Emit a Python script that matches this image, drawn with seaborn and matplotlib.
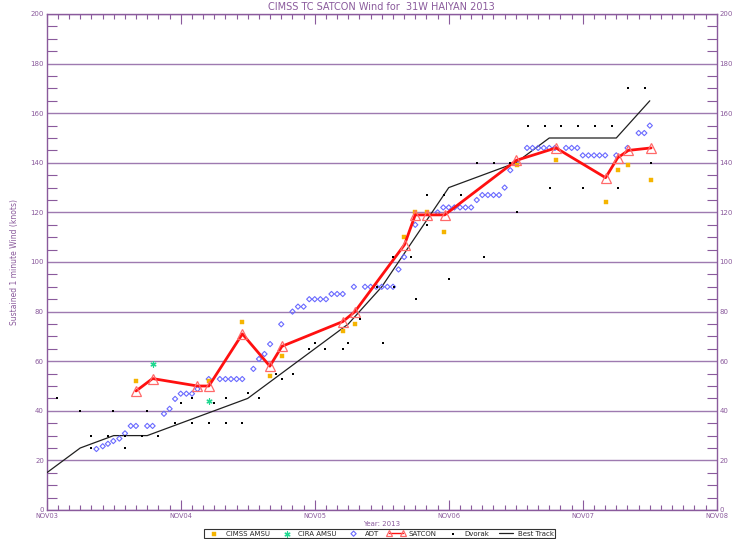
import numpy as np
import pandas as pd
import matplotlib
matplotlib.use("Agg")
import matplotlib.pyplot as plt
import seaborn as sns
from matplotlib.ticker import MultipleLocator

# ---------------- data (x = days since 03 Nov 2013 00Z, y = knots) ----------------
day_labels = ["NOV03", "NOV04", "NOV05", "NOV06", "NOV07", "NOV08"]

best_day = [0.0, 0.25, 0.5, 0.75, 1.0, 1.25, 1.5, 1.75, 2.0, 2.25, 2.5, 2.75,
            3.0, 3.25, 3.5, 3.75, 4.0, 4.25, 4.5]
best_kt = [15, 25, 30, 30, 35, 40, 45, 55, 65, 75, 90, 110,
           130, 135, 140, 150, 150, 150, 165]

satcon_day = [0.667, 0.79, 1.125, 1.21, 1.46, 1.665, 1.755, 2.21, 2.30, 2.67,
              2.75, 2.835, 2.97, 3.505, 3.80, 4.17, 4.26, 4.34, 4.51]
satcon_kt = [48, 53, 50, 50, 71, 58, 66, 76, 80, 107,
             119, 119, 119, 141, 146, 134, 142, 145, 146]

adt_day = [0.371, 0.418, 0.457, 0.497, 0.542, 0.584, 0.627, 0.666, 0.75, 0.79,
           0.875, 0.917, 0.958, 1.0, 1.042, 1.084, 1.125, 1.209, 1.292, 1.334,
           1.375, 1.417, 1.459, 1.542, 1.584, 1.625, 1.667, 1.75, 1.834, 1.875,
           1.917, 1.959, 2.0, 2.042, 2.084, 2.125, 2.167, 2.209, 2.292, 2.375,
           2.417, 2.459, 2.5, 2.542, 2.584, 2.625, 2.667, 2.75, 2.917, 2.959,
           3.0, 3.042, 3.084, 3.125, 3.167, 3.209, 3.25, 3.292, 3.334, 3.375,
           3.417, 3.459, 3.5, 3.584, 3.625, 3.667, 3.709, 3.75, 3.792, 3.875,
           3.917, 3.959, 4.0, 4.042, 4.084, 4.125, 4.167, 4.25, 4.334, 4.417,
           4.459, 4.5]
adt_kt = [24.6, 25.7, 26.7, 27.8, 28.8, 30.9, 33.9, 33.9, 33.9, 33.9,
          38.8, 40.8, 44.8, 46.9, 46.9, 46.9, 48.8, 52.8, 52.8, 52.8,
          52.8, 52.8, 52.8, 56.9, 60.9, 62.9, 66.9, 74.9, 80.0, 82.0,
          82.0, 85.0, 85.0, 85.0, 85.0, 87.1, 87.1, 87.1, 90.0, 90.0,
          90.0, 90.0, 90.0, 90.0, 90.0, 97.0, 102.0, 115.0, 120.0, 122.0,
          122.0, 122.0, 122.0, 122.0, 122.0, 125.0, 127.0, 127.0, 127.0, 127.0,
          130.0, 137.0, 140.0, 146.0, 146.0, 146.0, 146.0, 146.0, 146.0, 146.0,
          146.0, 146.0, 143.0, 143.0, 143.0, 143.0, 143.0, 143.0, 146.0, 152.0,
          152.0, 155.0]

dvorak_day = [0.08, 0.248, 0.497, 0.75, 0.33, 0.455, 0.584, 0.709, 0.833, 0.33,
              0.584, 0.957, 1.0, 1.084, 1.084, 1.21, 1.25, 1.336, 1.336, 1.46,
              1.5, 1.584, 1.71, 1.754, 1.836, 1.96, 2.0, 2.08, 2.21, 2.25,
              2.34, 2.467, 2.51, 2.587, 2.59, 2.716, 2.756, 2.84, 2.84, 2.965,
              3.005, 3.09, 3.21, 3.26, 3.34, 3.46, 3.507, 3.59, 3.716, 3.756,
              3.84, 3.967, 4.0, 4.09, 4.22, 4.26, 4.34, 4.465, 4.51]
dvorak_kt = [45, 40, 40, 40, 30, 30, 30, 30, 30, 25,
             25, 35, 43, 45, 35, 35, 43, 35, 45, 35,
             47, 45, 55, 53, 55, 65, 67.5, 65, 65, 67.5,
             77, 90, 67.5, 102, 90, 102, 85, 115, 127, 127,
             93, 127, 140, 102, 140, 140, 120, 155, 155, 130,
             155, 155, 130, 155, 155, 130, 170, 170, 140]

cimss_day = [0.667, 1.21, 1.46, 1.667, 1.754, 2.21, 2.30, 2.667, 2.75, 2.835,
             2.965, 3.507, 3.80, 4.17, 4.26, 4.34, 4.51]
cimss_kt = [52, 52, 76, 54, 62, 72, 75, 110, 120, 120,
            112, 139, 141, 124, 137, 139, 133]

cira_day = [0.79, 1.21]
cira_kt = [59, 44]

# ---------------- styling ----------------
PURPLE = "#8A5A9C"
GRID = "#9E7AB0"
W, H = 732, 539

sns.set_theme(style="white")
plt.rcParams["font.family"] = ["DejaVu Sans"]

fig = plt.figure(figsize=(W / 100, H / 100), dpi=100)
ax = fig.add_axes([46.7 / W, 1 - 510 / H, (716.8 - 46.7) / W, (510 - 14) / H])

best = pd.DataFrame({"day": best_day, "kt": best_kt})
sat = pd.DataFrame({"day": satcon_day, "kt": satcon_kt})
adt = pd.DataFrame({"day": adt_day, "kt": adt_kt})
dvo = pd.DataFrame({"day": dvorak_day, "kt": dvorak_kt})
cim = pd.DataFrame({"day": cimss_day, "kt": cimss_kt})
cir = pd.DataFrame({"day": cira_day, "kt": cira_kt})

sns.lineplot(data=best, x="day", y="kt", ax=ax, color="#202020", linewidth=0.9,
             label="Best Track", zorder=3)
sns.scatterplot(data=adt, x="day", y="kt", ax=ax, marker="D", s=7,
                facecolor="none", edgecolor="#6A6AFF", linewidth=0.8,
                label="ADT", zorder=4)
sns.scatterplot(data=cim, x="day", y="kt", ax=ax, marker="s", s=7,
                color="#F5B400", edgecolor="#F5B400", linewidth=0.3,
                label="CIMSS AMSU", zorder=4)
sns.scatterplot(data=cir, x="day", y="kt", ax=ax, marker=(6, 2, 0), s=14,
                color="#20D890", edgecolor="#20D890", linewidth=0.9,
                label="CIRA AMSU", zorder=4)
sns.lineplot(data=sat, x="day", y="kt", ax=ax, color="#FF1010", linewidth=2.0,
             marker="^", markersize=7, markerfacecolor="none",
             markeredgecolor="#FF6A6A", markeredgewidth=0.9,
             label="SATCON", zorder=5)
sns.scatterplot(data=dvo, x="day", y="kt", ax=ax, marker="s", s=2.5,
                color="black", edgecolor="black", linewidth=0,
                label="Dvorak", zorder=6)

ax.set_xlim(0, 5)
ax.set_ylim(0, 200)
ax.set_xticks(range(len(day_labels)))
ax.set_xticklabels(day_labels)
ax.xaxis.set_minor_locator(MultipleLocator(1 / 12))
ax.set_yticks(range(0, 201, 20))
ax.yaxis.set_minor_locator(MultipleLocator(5))

ax.grid(axis="y", which="major", color=GRID, linewidth=1.0)
ax.grid(axis="x", visible=False)
ax.set_axisbelow(True)

for s in ax.spines.values():
    s.set_color(PURPLE)
    s.set_linewidth(1.0)

ax.tick_params(axis="x", which="major", direction="in", length=7, width=0.8,
               color=PURPLE, top=True, bottom=True, labelsize=4.8,
               labelcolor=PURPLE, pad=2.5)
ax.tick_params(axis="x", which="minor", direction="in", length=3.8, width=0.8,
               color=PURPLE, top=True, bottom=True)
ax.tick_params(axis="y", which="major", direction="in", length=0,
               left=True, right=True, labelleft=True, labelright=True,
               labelsize=5, labelcolor=PURPLE, pad=2)
ax.tick_params(axis="y", which="minor", direction="in", length=7.3, width=0.8,
               color=PURPLE, left=True, right=True)

ax.set_xlabel("Year: 2013", fontsize=5, color=PURPLE, labelpad=1)
ax.set_ylabel("Sustained 1 minute Wind (knots)", fontsize=5.5, color=PURPLE,
              labelpad=8)
ax.set_title("CIMSS TC SATCON Wind for  31W HAIYAN 2013", fontsize=7,
             color=PURPLE, pad=3)

handles, labels = ax.get_legend_handles_labels()
if ax.legend_ is not None:
    ax.legend_.remove()
order = ["CIMSS AMSU", "CIRA AMSU", "ADT", "SATCON", "Dvorak", "Best Track"]
hmap = dict(zip(labels, handles))
leg = fig.legend([hmap[k] for k in order], order, loc="center",
                 bbox_to_anchor=(379.5 / W, 1 - 533.5 / H), ncol=6,
                 frameon=True, fancybox=False, edgecolor="black",
                 fontsize=5.0, borderpad=0.15, handlelength=2.6,
                 handletextpad=0.4, columnspacing=1.1, numpoints=2,
                 scatterpoints=1, borderaxespad=0)
leg.get_frame().set_linewidth(0.8)
for ln in leg.get_lines():
    ln.set_markersize(4.5)
    if ln.get_linewidth() > 1.5:
        ln.set_linewidth(1.0)

fig.savefig("out.png", dpi=100)
